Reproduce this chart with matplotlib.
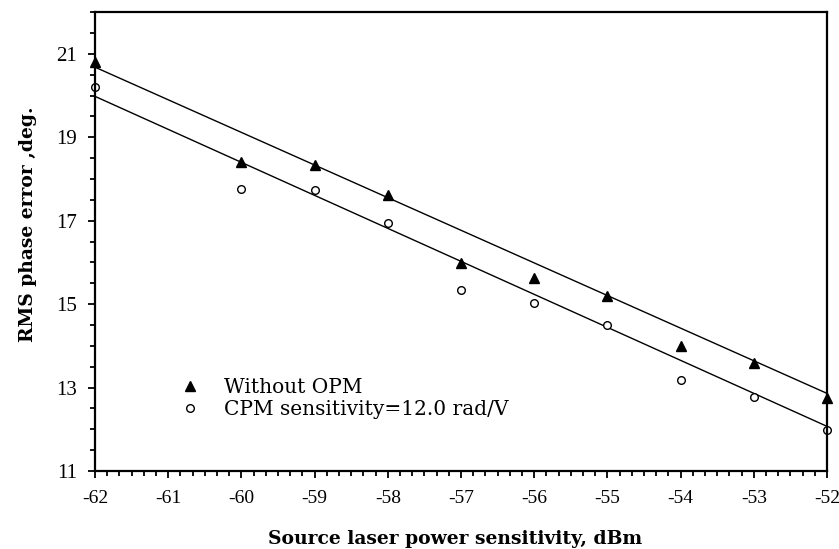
import matplotlib
matplotlib.use("Agg")
import matplotlib.pyplot as plt
from matplotlib.ticker import MultipleLocator, AutoMinorLocator

# values
power = [-62, -60, -59, -58, -57, -56, -55, -54, -53, -52]
without_opm = [20.8, 18.4, 18.33, 17.62, 15.98, 15.63, 15.19, 13.99, 13.6, 12.75]
with_opm = [20.2, 17.77, 17.73, 16.95, 15.35, 15.03, 14.51, 13.18, 12.77, 11.99]

# trend lines as drawn (ends)
fit_x = [-62, -52]
fit_without = [20.68, 12.86]
fit_with = [19.98, 12.07]

plt.rcParams['font.family'] = ['Liberation Serif', 'DejaVu Serif']
plt.rcParams['axes.unicode_minus'] = False

fig = plt.figure(figsize=(8.39, 5.49), dpi=100)
ax = fig.add_axes([0.1132, 0.1421, 0.8725, 0.8359])

ax.plot(fit_x, fit_without, color='black', lw=1.0)
ax.plot(fit_x, fit_with, color='black', lw=1.0)
ax.plot(power, without_opm, linestyle='none', marker='^', markersize=7.5,
        color='black', label='Without OPM', clip_on=False)
ax.plot(power, with_opm, linestyle='none', marker='o', markersize=5.5,
        markerfacecolor='white', markeredgecolor='black', markeredgewidth=1.0,
        label='CPM sensitivity=12.0 rad/V', clip_on=False)

ax.set_xlim(-62, -52)
ax.set_ylim(11, 22)
ax.xaxis.set_major_locator(MultipleLocator(1))
ax.xaxis.set_minor_locator(AutoMinorLocator(6))
ax.set_yticks([11, 13, 15, 17, 19, 21])
ax.yaxis.set_minor_locator(MultipleLocator(0.5))

for s in ax.spines.values():
    s.set_linewidth(1.6)

ax.tick_params(axis='both', which='major', direction='out', length=5, width=1.3)
ax.tick_params(axis='both', which='minor', direction='out', length=3.5, width=1.3)
ax.tick_params(axis='x', pad=9, labelsize=14)
ax.tick_params(axis='y', pad=8, labelsize=15)

ax.set_xlabel('Source laser power sensitivity, dBm', fontsize=13.5,
              fontweight='bold', family='DejaVu Serif')
ax.xaxis.set_label_coords(0.492, -0.1285)
ax.set_ylabel('RMS phase error ,deg.', fontsize=13.5, fontweight='bold',
              family='DejaVu Serif')
ax.yaxis.set_label_coords(-0.079, 0.538)

leg = ax.legend(loc='lower left', bbox_to_anchor=(0.105, 0.095), frameon=False,
                prop={'family': 'DejaVu Serif', 'size': 14.5},
                handletextpad=1.2, labelspacing=0.15,
                handlelength=1.0, borderaxespad=0)

fig.savefig('out.png', dpi=100)
